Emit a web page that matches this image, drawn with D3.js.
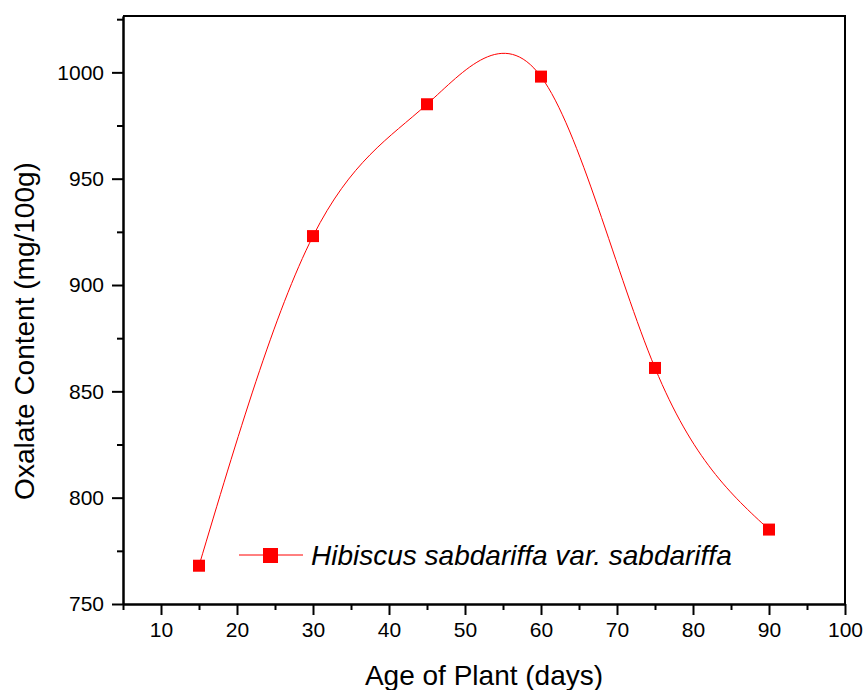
<!DOCTYPE html>
<html>
<head>
<meta charset="utf-8">
<script src="https://cdn.jsdelivr.net/npm/d3@7"></script>
<style>
  body { margin: 0; background: #fff; }
  text { font-family: "Liberation Sans", Arial, sans-serif; }
</style>
</head>
<body>
<div class="chart"></div>
<script>
var ages = [15, 30, 45, 60, 75, 90],
oxalate = [768, 923, 985, 998, 861, 785],
xTicks = [10, 20, 30, 40, 50, 60, 70, 80, 90, 100],
yTicks = [750, 800, 850, 900, 950, 1000],
seriesName = "Hibiscus sabdariffa var. sabdariffa";

var width = 865, height = 690,
plotLeft = 123, plotRight = 845, plotTop = 16, plotBottom = 604;

var x = d3.scaleLinear().domain([5, 100]).range([plotLeft, plotRight]);
var y = d3.scaleLinear().domain([750, 1026.5]).range([plotBottom, plotTop]);

var svg = d3.select(".chart").append("svg")
  .attr("width", width)
  .attr("height", height);

// frame (top + right, no ticks)
svg.append("path")
  .attr("d", "M" + plotLeft + "," + plotTop + "H" + plotRight + "V" + plotBottom)
  .attr("fill", "none").attr("stroke", "#000").attr("stroke-width", 2);

// minor ticks
var xMinor = d3.range(5, 100, 10);
var yMinor = d3.range(775, 1030, 50);

svg.append("g").attr("transform", "translate(0," + plotBottom + ")")
  .call(d3.axisBottom(x).tickValues(xMinor).tickSize(6).tickFormat("").tickSizeOuter(0));
svg.append("g").attr("class", "ax").attr("transform", "translate(0," + plotBottom + ")")
  .call(d3.axisBottom(x).tickValues(xTicks).tickSize(11).tickPadding(7).tickSizeOuter(0));

svg.append("g").attr("transform", "translate(" + plotLeft + ",0)")
  .call(d3.axisLeft(y).tickValues(yMinor).tickSize(6).tickFormat("").tickSizeOuter(0));
svg.append("g").attr("class", "ax").attr("transform", "translate(" + plotLeft + ",0)")
  .call(d3.axisLeft(y).tickValues(yTicks).tickSize(11).tickPadding(8).tickSizeOuter(0)
    .tickFormat(d3.format("d")));

svg.selectAll(".domain").attr("stroke-width", 2);
svg.selectAll(".tick line").attr("stroke-width", 2);
svg.selectAll("g.ax")
  .attr("font-size", 21)
  .attr("font-family", "Liberation Sans, Arial, sans-serif");
svg.selectAll(".tick text").attr("fill", "#000");

// axis titles
svg.append("text")
  .attr("x", 484).attr("y", 685)
  .attr("text-anchor", "middle").attr("font-size", 28)
  .text("Age of Plant (days)");

svg.append("text")
  .attr("transform", "translate(34,331) rotate(-90)")
  .attr("text-anchor", "middle").attr("font-size", 28)
  .text("Oxalate Content (mg/100g)");

// curve
var pts = ages.map(function(a, i){ return [a, oxalate[i]]; });
var line = d3.line()
  .x(function(d){ return x(d[0]); })
  .y(function(d){ return y(d[1]); })
  .curve(d3.curveNatural);

svg.append("path")
  .attr("d", line(pts))
  .attr("fill", "none").attr("stroke", "#ff0000").attr("stroke-width", 1);

svg.selectAll("rect.pt")
  .data(pts)
  .enter().append("rect").attr("class", "pt")
  .attr("x", function(d){ return x(d[0]) - 6; })
  .attr("y", function(d){ return y(d[1]) - 6; })
  .attr("width", 12).attr("height", 12)
  .attr("fill", "#ff0000");

// legend
var lg = svg.append("g").attr("transform", "translate(239,555)");
lg.append("line").attr("x1", 0).attr("x2", 64).attr("y1", 0).attr("y2", 0)
  .attr("stroke", "#ff0000").attr("stroke-width", 1);
lg.append("rect").attr("x", 24).attr("y", -7).attr("width", 15).attr("height", 15)
  .attr("fill", "#ff0000");
lg.append("text").attr("x", 72).attr("y", 10)
  .attr("font-size", 28).attr("font-style", "italic")
  .text(seriesName);
</script>
</body>
</html>
